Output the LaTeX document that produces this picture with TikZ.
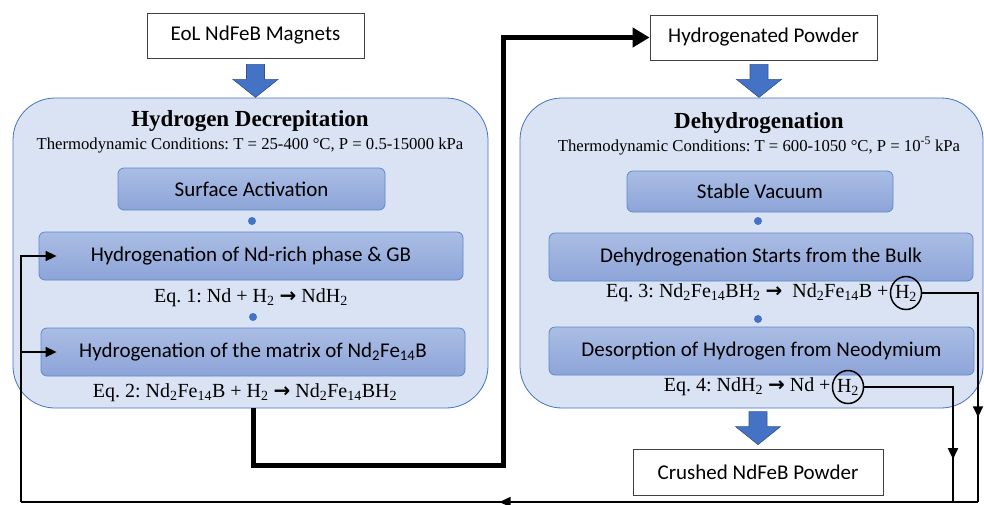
\documentclass[tikz,border=0pt]{standalone}
\usepackage{fontspec}
\setmainfont{Liberation Serif}
\newfontfamily\boxfont{Carlito}
\newfontfamily\arrfont{DejaVu Sans}
\usetikzlibrary{shapes,arrows.meta,positioning,calc,decorations.markings}
\definecolor{panelfill}{HTML}{DAE3F3}
\definecolor{panelline}{HTML}{4472C4}
\definecolor{steptop}{HTML}{AABDE4}
\definecolor{stepbot}{HTML}{8DA4D8}
\definecolor{arrowblue}{HTML}{4472C4}
\newcommand{\rto}{{\arrfont\bfseries\fontsize{20}{22}\selectfont →}}
\frenchspacing

\begin{document}
\begin{tikzpicture}[x=1pt,y=-1pt,
    every node/.style={inner sep=0pt},
    panel/.style={rectangle, draw=panelline, line width=0.8pt, fill=panelfill, rounded corners=42pt},
    stepbox/.style={rectangle, draw=panelline!85, line width=0.8pt, top color=steptop, bottom color=stepbot, rounded corners=6pt, font=\boxfont\fontsize{21}{25}\selectfont},
    endbox/.style={rectangle, draw=black!75, line width=0.8pt, fill=white, font=\boxfont\fontsize{21}{25}\selectfont},
    title/.style={font=\bfseries\fontsize{23}{27}\selectfont},
    cond/.style={font=\fontsize{16.7}{20}\selectfont},
    eqtext/.style={font=\fontsize{20}{24}\selectfont},
    dot/.style={circle, fill=panelline, minimum size=8pt},
    gas/.style={ellipse, draw=black, line width=1.5pt, minimum width=27pt, minimum height=33pt, font=\fontsize{20}{24}\selectfont},
    ret/.style={line width=1.6pt},
    tip/.style={-{Triangle[length=11pt,width=10pt]}},
    midarrow/.style={postaction={decorate}, decoration={markings, mark=at position #1 with {\arrow{Triangle[length=11pt,width=10pt]}}}},
    feed/.style={line width=5pt, -{Triangle[length=17pt,width=19pt]}},
    downarr/.pic={\fill[arrowblue, draw=arrowblue!75!black, line width=0.6pt] (-9,0) -- (9,0) -- (9,15) -- (22.5,15) -- (0,33) -- (-22.5,15) -- (-9,15) -- cycle;}
]
    \useasboundingbox (0,0) rectangle (984,504);

    % Panels
    \node[panel, minimum width=475pt, minimum height=310pt] (hd) at (250.5,253) {};
    \node[panel, minimum width=463pt, minimum height=310pt] (dh) at (751.5,253) {};

    % Start, intermediate and end products
    \node[endbox, minimum width=217pt, minimum height=45pt] (eol) at (255.5,35.5) {EoL NdFeB Magnets};
    \node[endbox, minimum width=227pt, minimum height=45pt] (hp) at (763.5,37.5) {Hydrogenated Powder};
    \node[endbox, minimum width=250pt, minimum height=46pt] (cr) at (758,472) {Crushed NdFeB Powder};

    \pic at ($(eol.south)+(0,6)$) {downarr};
    \pic at ($(hp.south)+(-4.5,4)$) {downarr};
    \pic at ($(cr.north)+(0,-37)$) {downarr};

    % Hydrogen decrepitation
    \node[title] (hdtitle) at (250,121) {Hydrogen Decrepitation};
    \node[cond] (hdcond) at (250,146) {Thermodynamic Conditions: T = 25-400 °C, P = 0.5-15000 kPa};
    \node[stepbox, minimum width=267pt, minimum height=42pt] (sa) at (251.5,189) {Surface Activation};
    \node[dot] (d1) at (252,221) {};
    \node[stepbox, minimum width=424pt, minimum height=48pt] (hn) at (251,256) {Hydrogenation of Nd-rich phase \& GB};
    \node[eqtext] (eq1) at (251,298) {Eq. 1: Nd + H\textsubscript{2} \rto{} NdH\textsubscript{2}};
    \node[dot] (d2) at (253,317) {};
    \node[stepbox, minimum width=424pt, minimum height=48pt] (hm) at (253,352) {Hydrogenation of the matrix of Nd\textsubscript{2}Fe\textsubscript{14}B};
    \node[eqtext] (eq2) at (245,393) {Eq. 2: Nd\textsubscript{2}Fe\textsubscript{14}B + H\textsubscript{2} \rto{} Nd\textsubscript{2}Fe\textsubscript{14}BH\textsubscript{2}};

    % Dehydrogenation
    \node[title] (dhtitle) at (759,123) {Dehydrogenation};
    \node[cond] (dhcond) at (759,146) {Thermodynamic Conditions: T = 600-1050 °C, P = 10\textsuperscript{-5} kPa};
    \node[stepbox, minimum width=266pt, minimum height=41pt] (sv) at (760,191.5) {Stable Vacuum};
    \node[dot] (d3) at (758,221) {};
    \node[stepbox, minimum width=424pt, minimum height=48pt] (ds) at (761,257) {Dehydrogenation Starts from the Bulk};
    \node[gas] (h2a) at (906,293) {H\textsubscript{2}};
    \node[eqtext, anchor=east, xshift=-1pt] (eq3) at (h2a.west) {Eq. 3: Nd\textsubscript{2}Fe\textsubscript{14}BH\textsubscript{2} \rto{}~ Nd\textsubscript{2}Fe\textsubscript{14}B +};
    \node[dot] (d4) at (758,319) {};
    \node[stepbox, minimum width=425pt, minimum height=48pt] (dn) at (761.5,351) {Desorption of Hydrogen from Neodymium};
    \node[gas] (h2b) at (848,387) {H\textsubscript{2}};
    \node[eqtext, anchor=east, xshift=-1pt] (eq4) at (h2b.west) {Eq. 4: NdH\textsubscript{2} \rto{} Nd +};

    % Powder transfer
    \coordinate (k1) at (503,465);
    \draw[feed] ([xshift=2.5pt]hd.south) |- (k1) |- (hp.west);

    % Hydrogen recycling
    \coordinate (rb) at (978,502);
    \coordinate (rb2) at (953,502);
    \coordinate (lb) at (21,502);
    \draw[ret, midarrow=0.68] (h2a.east) -| (rb);
    \draw[ret, midarrow=0.79] (h2b.east) -| (rb2);
    \draw[ret, midarrow=0.5] (rb) -- (lb);
    \draw[ret, tip] (lb) |- ([xshift=18pt]hn.west);
    \draw[ret, tip] (lb |- hm.west) -- ([xshift=16pt]hm.west);

\end{tikzpicture}
\end{document}
